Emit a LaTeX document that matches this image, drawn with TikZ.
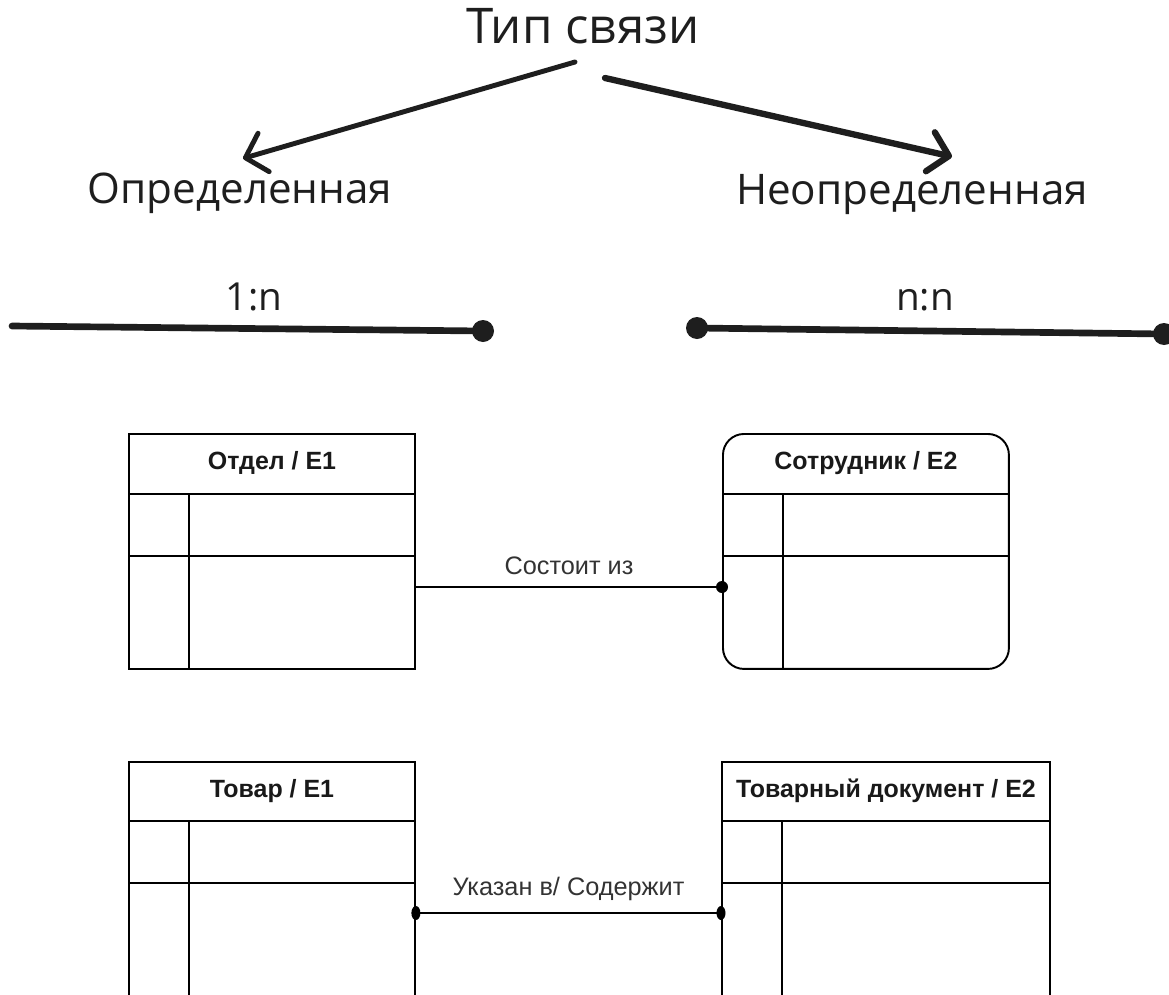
\documentclass[tikz,border=0pt]{standalone}
\usepackage{fontspec}
\setmainfont{Liberation Sans}
\newfontfamily\handfont{Open Sans}
\usetikzlibrary{arrows.meta,calc}
\definecolor{ink}{HTML}{1E1E1E}

\begin{document}
\begin{tikzpicture}[x=0.02cm,y=-0.02cm,
    >={Straight Barb[length=3.8mm,width=8mm,line cap=round,line join=round]},
    hand/.style={font=\handfont\fontsize{24}{28}\selectfont,text=ink},
    bigarrow/.style={->,line width=2.8pt,ink,line cap=round},
    heavy/.style={line width=3.8pt,ink,line cap=round},
    knob/.style={fill=ink},
    entity/.style={draw=black,line width=1.1pt,anchor=north west,minimum width=5.72cm,inner sep=0pt},
    ttl/.style={font=\bfseries\fontsize{14.2}{17}\selectfont,text=black!90},
    rlab/.style={font=\fontsize{14.4}{17}\selectfont,text=black!80},
    tline/.style={line width=1.1pt},
    rel/.style={line width=1.1pt}]
\useasboundingbox (0,0) rectangle (1169,994);
\clip (0,0) rectangle (1169,994);
% ===== relation kinds (sketch part) =====
\node[hand,font=\handfont\fontsize{28}{32}\selectfont] (kind) at (583,26) {Тип связи};
\node[hand] (fixed) at (240,193) {Определенная};
\node[hand] (loose) at (912,195) {Неопределенная};
\draw[bigarrow] ($(kind.south)+(-8,12)$) -- ($(fixed.north)+(3,-8)$);
\draw[bigarrow,line width=3.6pt] ($(kind.south)+(22,28)$) -- ($(loose.north)+(40,-12)$);
% ===== 1:n and n:n strokes =====
\node[hand,font=\handfont\fontsize{22}{26}\selectfont,anchor=base] (one) at (254,310) {1:n};
\node[hand,font=\handfont\fontsize{22}{26}\selectfont,anchor=base] (many) at (925,310) {n:n};
\coordinate (oneL) at (12,326);
\coordinate (oneR) at (483,331);
\draw[heavy] (oneL) -- (oneR);
\fill[knob] (oneR) circle (0.22cm);
\coordinate (manyL) at (697,328);
\coordinate (manyR) at (1164,334);
\draw[heavy] (manyL) -- (manyR);
\fill[knob] (manyL) circle (0.22cm);
\fill[knob] (manyR) circle (0.22cm);
% ===== Otdel / Sotrudnik =====
\node[entity,minimum height=4.7cm] (otdel) at (128,433) {};
\node[ttl] (otdelT) at ($(otdel.north)+(0,30)$) {Отдел / E1};
\draw[tline] (otdel.west |- 0,494) -- (otdel.east |- 0,494);
\draw[tline] (otdel.west |- 0,556) -- (otdel.east |- 0,556);
\draw[tline] (189,494) -- (otdel.south -| 189,0);
\node[entity,rounded corners=0.42cm,minimum height=4.7cm] (sotr) at (722,433) {};
\node[ttl] (sotrT) at ($(sotr.north)+(0,30)$) {Сотрудник / E2};
\draw[tline] (sotr.west |- 0,494) -- (sotr.east |- 0,494);
\draw[tline] (sotr.west |- 0,556) -- (sotr.east |- 0,556);
\draw[tline] (783,494) -- (sotr.south -| 783,0);
\coordinate (r1a) at (otdel.east |- 0,587);
\coordinate (r1b) at (sotr.west |- 0,587);
\draw[rel] (r1a) -- node[rlab,above=3pt] {Состоит из} (r1b);
\fill (r1b) circle (0.12cm);
% ===== Tovar / Tovarnyi dokument =====
\node[entity,minimum height=6cm] (tovar) at (128,761) {};
\node[ttl] (tovarT) at ($(tovar.north)+(0,30)$) {Товар / E1};
\draw[tline] (tovar.west |- 0,821) -- (tovar.east |- 0,821);
\draw[tline] (tovar.west |- 0,883) -- (tovar.east |- 0,883);
\draw[tline] (189,821) -- (tovar.south -| 189,0);
\node[entity,minimum width=6.56cm,minimum height=6cm] (tdoc) at (721,761) {};
\node[ttl] (tdocT) at ($(tdoc.north)+(0,30)$) {Товарный документ / E2};
\draw[tline] (tdoc.west |- 0,821) -- (tdoc.east |- 0,821);
\draw[tline] (tdoc.west |- 0,883) -- (tdoc.east |- 0,883);
\draw[tline] (782,821) -- (tdoc.south -| 782,0);
\coordinate (r2a) at (tovar.east |- 0,913);
\coordinate (r2b) at (tdoc.west |- 0,913);
\draw[rel] (r2a) -- node[rlab,above=3pt] {Указан в/ Содержит} (r2b);
\fill (r2a) ellipse (0.09cm and 0.14cm);
\fill (r2b) ellipse (0.09cm and 0.14cm);
\end{tikzpicture}
\end{document}
